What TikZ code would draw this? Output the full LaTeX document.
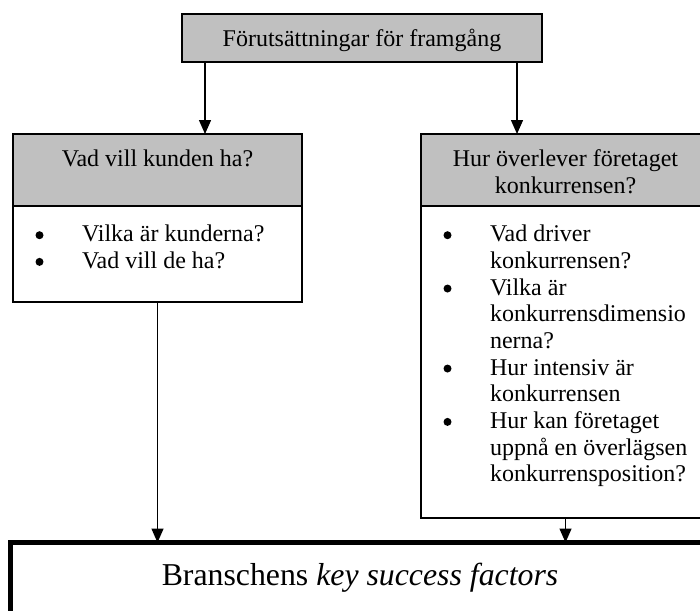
\documentclass[tikz,border=0pt]{standalone}
\usepackage{fontspec}
\setmainfont{Liberation Serif}
\usetikzlibrary{arrows.meta}
\definecolor{headgray}{HTML}{C0C0C0}
% list bullet: a filled dot sitting at mid x-height, then the text indent
\newcommand\bulitem{\makebox[46.5pt][l]{\tikz[baseline=0pt]\fill (4pt,6.5pt) circle (4pt);}}
\newcommand\contitem{\hspace*{46.5pt}}
\begin{document}
\begin{tikzpicture}[x=1pt,y=-1pt,
  box/.style={draw, line width=1.4pt, inner sep=0pt, outer sep=0pt, anchor=north west},
  headbox/.style={box, fill=headgray},
  txt/.style={inner sep=0pt, outer sep=0pt, anchor=base west, font=\fontsize{24}{26.67}\selectfont},
  ctxt/.style={txt, anchor=base},
  arr/.style={line width=1.4pt, -{Triangle[length=14pt,width=12pt]}}]
  \useasboundingbox (0,0) rectangle (700,610);
  \clip (0,0) rectangle (700,610);

  % top box
  \node[headbox, minimum width=360pt, minimum height=48pt] (top) at (182,14) {};
  \node[ctxt] (toptxt) at (362,47) {Förutsättningar för framgång};

  % left column: customer
  \node[headbox, minimum width=289pt, minimum height=72pt] (lh) at (13,134) {};
  \node[ctxt] (lhtxt) at (157.5,166.7) {Vad vill kunden ha?};
  \node[box, minimum width=289pt, minimum height=96pt] (lb) at (13,206) {};
  \node[txt] (lbtxt) at (35.5,241.7) {\begin{tabular}[t]{@{}l@{}}
    \bulitem Vilka är kunderna?\\
    \bulitem Vad vill de ha?
  \end{tabular}};

  % right column: competition
  \node[headbox, minimum width=289pt, minimum height=72pt] (rh) at (421,134) {};
  \node[ctxt] (rhtxt) at (565.5,166.7) {\begin{tabular}[t]{@{}c@{}}
    Hur överlever företaget\\
    konkurrensen?
  \end{tabular}};
  \node[box, minimum width=289pt, minimum height=312pt] (rb) at (421,206) {};
  \node[txt] (rbtxt) at (443.5,241.7) {\begin{tabular}[t]{@{}l@{}}
    \bulitem Vad driver\\
    \contitem konkurrensen?\\
    \bulitem Vilka är\\
    \contitem konkurrensdimensio\\
    \contitem nerna?\\
    \bulitem Hur intensiv är\\
    \contitem konkurrensen\\
    \bulitem Hur kan företaget\\
    \contitem uppnå en överlägsen\\
    \contitem konkurrensposition?
  \end{tabular}};

  % result box
  \node[box, line width=5pt, minimum width=700pt, minimum height=120pt] (ksf) at (10,542.5) {};
  \node[ctxt, font=\fontsize{31.8}{36}\selectfont] (ksftxt) at (360,585) {Branschens \textit{key success factors}};

  % connectors
  \draw[arr] ([xshift=23pt]top.south west) -- ([xshift=23pt]top.south west |- lh.north);
  \draw[arr] ([xshift=-25pt]top.south east) -- ([xshift=-25pt]top.south east |- rh.north);
  \draw[arr] (lb.south) -- (lb.south |- ksf.north);
  \draw[arr] (rb.south) -- (rb.south |- ksf.north);
\end{tikzpicture}
\end{document}
